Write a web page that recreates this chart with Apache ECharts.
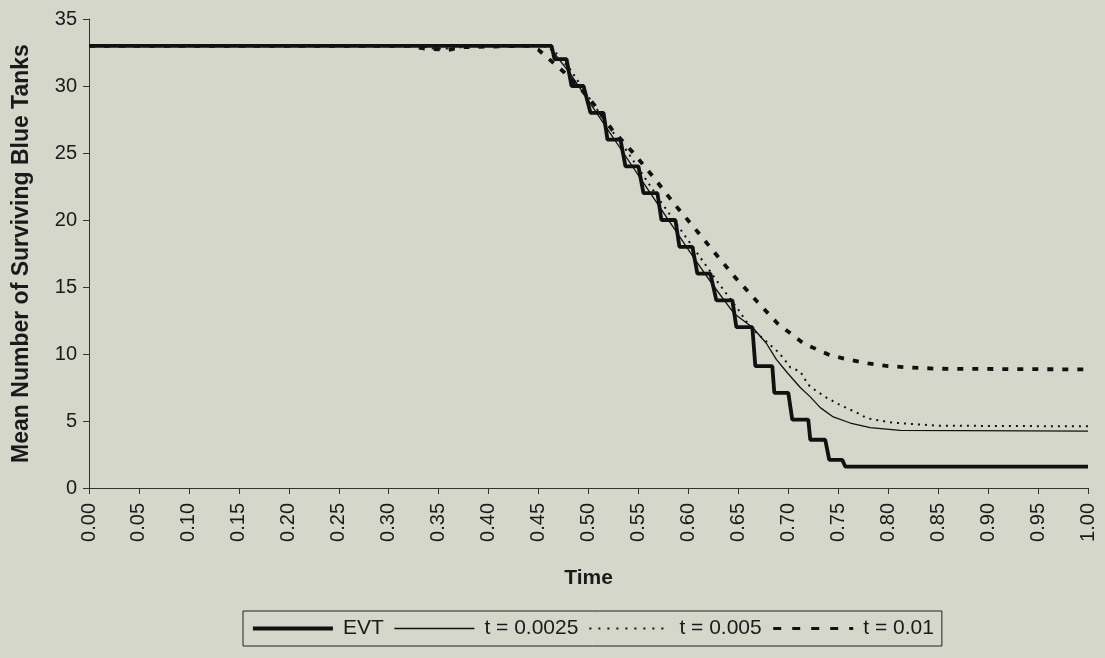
<!DOCTYPE html>
<html>
<head>
<meta charset="utf-8">
<script src="https://cdn.jsdelivr.net/npm/echarts@6/dist/echarts.min.js"></script>
<style>
html,body{margin:0;padding:0;background:#d5d7cb;}
#c{width:1105px;height:658px;}
</style>
</head>
<body>
<div id="c"></div>
<script>
// ---- data ----
const seriesNames = ['EVT', 't = 0.0025', 't = 0.005', 't = 0.01'];
const xTicks = [0.00,0.05,0.10,0.15,0.20,0.25,0.30,0.35,0.40,0.45,0.50,0.55,0.60,0.65,0.70,0.75,0.80,0.85,0.90,0.95,1.00];
const yTicks = [0,5,10,15,20,25,30,35];

const evtT = [0, 0.463, 0.466, 0.478, 0.483, 0.495, 0.502, 0.515, 0.519, 0.532, 0.537, 0.550, 0.555, 0.569, 0.573, 0.587, 0.591, 0.604, 0.609, 0.622, 0.628, 0.644, 0.648, 0.664, 0.667, 0.684, 0.686, 0.700, 0.704, 0.720, 0.722, 0.737, 0.741, 0.754, 0.757, 1.0];
const evtV = [33, 33, 32, 32, 30, 30, 28, 28, 26, 26, 24, 24, 22, 22, 20, 20, 18, 18, 16, 16, 14, 14, 12, 12, 9.1, 9.1, 7.1, 7.1, 5.1, 5.1, 3.6, 3.6, 2.1, 2.1, 1.6, 1.6];

const t0025T = [0, 0.462, 0.465, 0.481, 0.499, 0.517, 0.535, 0.553, 0.571, 0.589, 0.607, 0.626, 0.646, 0.664, 0.678, 0.688, 0.699, 0.712, 0.722, 0.732, 0.745, 0.762, 0.782, 0.812, 1.0];
const t0025V = [33, 33, 32.5, 31, 29, 27, 25, 23, 21, 19, 17, 15, 13, 12.0, 10.8, 9.6, 8.6, 7.5, 6.8, 6.0, 5.3, 4.85, 4.5, 4.3, 4.25];

const t005T = [0, 0.33, 0.345, 0.365, 0.38, 0.45, 0.458, 0.466, 0.482, 0.500, 0.518, 0.537, 0.555, 0.573, 0.592, 0.610, 0.630, 0.652, 0.657, 0.668, 0.677, 0.689, 0.695, 0.702, 0.712, 0.720, 0.727, 0.737, 0.749, 0.769, 0.779, 0.802, 0.819, 0.850, 1.0];
const t005V = [33, 33, 32.8, 32.8, 33, 33, 32.9, 32.6, 31.2, 29.2, 27.2, 25.3, 23.3, 21.3, 19.3, 17.4, 15.3, 13.1, 12.5, 11.6, 11.0, 10.2, 9.7, 9.0, 8.7, 7.7, 7.3, 6.8, 6.3, 5.6, 5.2, 4.9, 4.8, 4.65, 4.6];

const t01T = [0, 0.32, 0.335, 0.36, 0.375, 0.44, 0.45, 0.456, 0.476, 0.491, 0.508, 0.524, 0.545, 0.565, 0.587, 0.605, 0.627, 0.647, 0.669, 0.689, 0.715, 0.742, 0.759, 0.780, 0.800, 0.820, 0.850, 1.0];
const t01V = [33, 33, 32.8, 32.7, 32.9, 33, 32.7, 32.3, 31.0, 29.9, 28.4, 26.7, 25.0, 23.2, 21.1, 19.5, 17.5, 15.7, 13.9, 12.3, 10.8, 9.9, 9.6, 9.3, 9.1, 9.0, 8.9, 8.85];

const pairs = (ts, vs) => ts.map((t, i) => [t, vs[i]]);

const FONT = 'Arial, "Liberation Sans", sans-serif';
const INK = '#1a1a1a';

const styles = [
  {color: '#111', width: 3.8, type: 'solid'},
  {color: '#111', width: 1.3, type: 'solid'},
  {color: '#111', width: 2, type: [2, 5]},
  {color: '#111', width: 3.8, type: [6, 9]}
];
const legendStyles = [
  {color: '#111', width: 3.8, type: 'solid'},
  {color: '#111', width: 1.3, type: 'solid'},
  {color: '#111', width: 2, type: [2, 7]},
  {color: '#111', width: 3, type: [8, 11]}
];

const chart = echarts.init(document.getElementById('c'), null, {renderer: 'canvas'});

const baseX = {
  type: 'value', min: 0, max: 1, interval: 0.05, gridIndex: 0,
  splitLine: {show: false}
};
const baseY = {
  type: 'value', min: 0, max: 35, interval: 5, gridIndex: 0,
  splitLine: {show: false}
};

chart.setOption({
  backgroundColor: '#d5d7cb',
  animation: false,
  textStyle: {fontFamily: FONT, color: INK},
  grid: {left: 89, right: 17, top: 19, bottom: 170, containLabel: false},
  xAxis: [
    Object.assign({}, baseX, {
      name: 'Time', nameLocation: 'middle', nameGap: 80,
      nameTextStyle: {fontSize: 21, fontWeight: 'bold', color: INK, fontFamily: FONT},
      axisLine: {show: true, onZero: false, lineStyle: {color: '#333', width: 1}},
      axisTick: {show: true, length: 6, lineStyle: {color: '#333'}},
      axisLabel: {show: true, rotate: 90, margin: 15, fontSize: 20, color: INK, fontFamily: FONT,
        customValues: xTicks, formatter: v => v.toFixed(2)}
    }),
    Object.assign({}, baseX, {
      axisLine: {show: false}, axisLabel: {show: false},
      axisTick: {show: true, inside: true, length: 5, lineStyle: {color: '#333'}}
    })
  ],
  yAxis: [
    Object.assign({}, baseY, {
      name: 'Mean Number of Surviving Blue Tanks', nameLocation: 'middle', nameGap: 56,
      nameTextStyle: {fontSize: 23, fontWeight: 'bold', color: INK, fontFamily: FONT},
      axisLine: {show: true, onZero: false, lineStyle: {color: '#333', width: 1}},
      axisTick: {show: true, length: 6, lineStyle: {color: '#333'}},
      axisLabel: {show: true, margin: 12, fontSize: 20, color: INK, fontFamily: FONT,
        customValues: yTicks}
    }),
    Object.assign({}, baseY, {
      axisLine: {show: false}, axisLabel: {show: false},
      axisTick: {show: true, inside: true, length: 5, lineStyle: {color: '#333'}}
    })
  ],
  legend: {
    show: true, left: 243, top: 611, orient: 'horizontal',
    padding: [7, 8, 7, 8], itemGap: 10, itemWidth: 80, itemHeight: 14,
    borderColor: '#222', borderWidth: 1, backgroundColor: 'transparent',
    itemStyle: {opacity: 0},
    textStyle: {fontSize: 21, color: INK, fontFamily: FONT, padding: [0, 0, 0, 5]},
    data: seriesNames.map((n, i) => ({name: n, lineStyle: legendStyles[i], itemStyle: {opacity: 0}}))
  },
  series: seriesNames.map((n, i) => ({
    name: n, type: 'line', symbol: 'none', z: 5 - i,
    data: [pairs(evtT, evtV), pairs(t0025T, t0025V), pairs(t005T, t005V), pairs(t01T, t01V)][i],
    lineStyle: styles[i], itemStyle: {color: '#111'}
  }))
});
</script>
</body>
</html>
